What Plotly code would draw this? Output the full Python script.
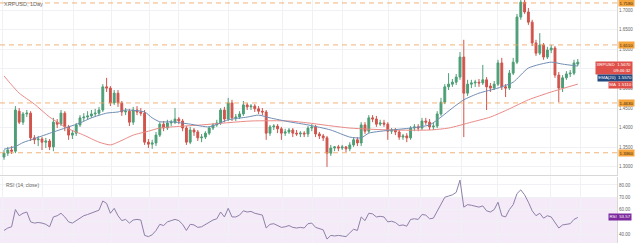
import plotly.graph_objects as go

# ---------------- data ----------------
open_ = [
1.325,1.335,1.343,1.340,1.442,1.414,1.435,1.437,1.374,1.369,
1.371,1.363,1.366,1.351,1.414,1.409,1.437,1.402,1.381,1.386,
1.407,1.425,1.427,1.430,1.435,1.437,1.445,1.504,1.501,1.463,
1.488,1.463,1.440,1.442,1.414,1.445,1.440,1.437,1.363,1.358,
1.361,1.381,1.409,1.399,1.412,1.414,1.422,1.417,1.399,1.363,
1.394,1.389,1.374,1.376,1.386,1.399,1.407,1.412,1.445,1.422,
1.463,1.425,1.427,1.435,1.458,1.453,1.455,1.448,1.442,1.440,
1.386,1.402,1.404,1.397,1.386,1.389,1.394,1.386,1.384,1.386,
1.384,1.399,1.402,1.384,1.379,1.374,1.335,1.348,1.351,1.348,
1.351,1.346,1.356,1.369,1.361,1.407,1.391,1.425,1.422,1.409,
1.412,1.409,1.391,1.394,1.389,1.376,1.379,1.374,1.399,1.402,
1.399,1.417,1.414,1.402,1.404,1.435,1.465,1.504,1.511,1.516,
1.529,1.580,1.488,1.511,1.514,1.516,1.514,1.522,1.506,1.501,
1.511,1.565,1.504,1.501,1.539,1.567,1.682,1.720,1.695,1.669,
1.616,1.590,1.611,1.580,1.598,1.603,1.534,1.501,1.527,1.537,
1.539,1.562]

high = [
1.343,1.351,1.353,1.455,1.450,1.440,1.445,1.442,1.381,1.379,
1.376,1.374,1.371,1.425,1.422,1.445,1.442,1.407,1.394,1.412,
1.432,1.437,1.442,1.445,1.448,1.453,1.511,1.527,1.506,1.496,
1.496,1.468,1.450,1.448,1.453,1.455,1.450,1.445,1.371,1.369,
1.389,1.414,1.417,1.420,1.420,1.450,1.427,1.422,1.404,1.402,
1.399,1.394,1.384,1.391,1.404,1.412,1.420,1.450,1.453,1.476,
1.471,1.435,1.442,1.468,1.463,1.460,1.460,1.455,1.450,1.445,
1.407,1.409,1.409,1.402,1.397,1.399,1.399,1.394,1.391,1.391,
1.404,1.409,1.407,1.389,1.384,1.379,1.356,1.353,1.356,1.356,
1.353,1.363,1.376,1.376,1.414,1.414,1.432,1.432,1.430,1.420,
1.420,1.414,1.399,1.399,1.394,1.384,1.386,1.404,1.409,1.409,
1.425,1.425,1.422,1.412,1.442,1.476,1.511,1.539,1.524,1.537,
1.593,1.624,1.522,1.522,1.522,1.524,1.560,1.529,1.514,1.519,
1.573,1.578,1.511,1.547,1.578,1.690,1.738,1.756,1.705,1.675,
1.624,1.641,1.616,1.606,1.611,1.608,1.542,1.534,1.544,1.547,
1.573,1.575]

low = [
1.318,1.328,1.333,1.335,1.409,1.407,1.427,1.366,1.358,1.353,
1.343,1.348,1.343,1.340,1.399,1.404,1.391,1.369,1.371,1.379,
1.402,1.417,1.420,1.425,1.427,1.432,1.440,1.491,1.455,1.458,
1.453,1.430,1.432,1.404,1.407,1.432,1.430,1.356,1.348,1.346,
1.353,1.376,1.391,1.394,1.404,1.409,1.409,1.391,1.356,1.358,
1.379,1.366,1.363,1.371,1.381,1.394,1.402,1.407,1.414,1.417,
1.417,1.417,1.422,1.430,1.445,1.445,1.440,1.435,1.432,1.369,
1.379,1.394,1.386,1.369,1.379,1.384,1.376,1.379,1.376,1.376,
1.376,1.391,1.376,1.371,1.366,1.300,1.328,1.340,1.340,1.343,
1.338,1.340,1.351,1.353,1.353,1.384,1.386,1.414,1.402,1.404,
1.402,1.369,1.384,1.381,1.369,1.369,1.363,1.369,1.391,1.391,
1.394,1.407,1.394,1.394,1.399,1.430,1.460,1.496,1.504,1.509,
1.522,1.376,1.481,1.501,1.504,1.504,1.509,1.445,1.491,1.496,
1.506,1.496,1.478,1.496,1.534,1.562,1.675,1.690,1.662,1.608,
1.583,1.585,1.573,1.575,1.590,1.527,1.465,1.491,1.522,1.529,
1.534,1.557]

close = [
1.335,1.343,1.340,1.445,1.414,1.435,1.437,1.374,1.369,1.371,
1.363,1.366,1.351,1.414,1.409,1.437,1.402,1.381,1.386,1.407,
1.425,1.427,1.430,1.435,1.437,1.445,1.504,1.501,1.463,1.488,
1.463,1.440,1.442,1.414,1.445,1.440,1.437,1.363,1.358,1.361,
1.381,1.409,1.399,1.412,1.414,1.422,1.417,1.399,1.363,1.394,
1.389,1.374,1.376,1.386,1.399,1.407,1.412,1.445,1.422,1.463,
1.425,1.427,1.435,1.458,1.453,1.455,1.448,1.442,1.440,1.386,
1.402,1.404,1.397,1.386,1.389,1.394,1.386,1.384,1.386,1.384,
1.399,1.402,1.384,1.379,1.374,1.335,1.348,1.351,1.348,1.351,
1.346,1.356,1.369,1.361,1.407,1.391,1.425,1.422,1.409,1.412,
1.409,1.391,1.394,1.389,1.376,1.379,1.374,1.399,1.402,1.399,
1.417,1.414,1.402,1.404,1.435,1.465,1.504,1.511,1.516,1.529,
1.580,1.488,1.511,1.514,1.516,1.514,1.522,1.504,1.501,1.511,
1.565,1.504,1.501,1.539,1.567,1.682,1.720,1.695,1.669,1.616,
1.590,1.611,1.580,1.598,1.603,1.534,1.501,1.527,1.537,1.539,
1.565,1.567]

# slow moving average (red) and EMA (blue-grey), read at sample candles
ma_idx = [0, 2, 4, 8, 12, 17, 21, 25, 28, 30, 34, 38, 41, 52, 65, 75, 80, 91,
          102, 112, 117, 123, 128, 133, 138, 144, 151]
ma_val = [1.532, 1.509, 1.488, 1.460, 1.427, 1.397, 1.381, 1.363, 1.356, 1.363,
          1.381, 1.391, 1.399, 1.407, 1.417, 1.417, 1.412, 1.399, 1.394, 1.394,
          1.399, 1.414, 1.427, 1.448, 1.471, 1.491, 1.511]

ema_idx = [0, 3, 5, 8, 13, 17, 20, 23, 27, 30, 32, 37, 39, 41, 44, 49, 54, 59,
           64, 67, 70, 75, 80, 86, 91, 94, 96, 102, 107, 112, 115, 118, 121,
           125, 130, 134, 138, 144, 147, 151]
ema_val = [1.345, 1.352, 1.362, 1.372, 1.389, 1.402, 1.412, 1.425, 1.437, 1.440,
           1.445, 1.440, 1.425, 1.415, 1.415, 1.409, 1.402, 1.420, 1.427, 1.432,
           1.425, 1.415, 1.407, 1.394, 1.376, 1.374, 1.386, 1.394, 1.399, 1.407,
           1.427, 1.450, 1.471, 1.488, 1.501, 1.516, 1.552, 1.567, 1.562, 1.557]

rsi = [
43, 45, 46, 60, 55, 57, 58, 50, 49, 49.5,
49, 48, 46, 54, 55, 57, 54, 50, 49, 51,
53, 55, 56, 57, 58, 59.5, 67, 65, 57, 61,
55, 51, 52, 49, 51.5, 52, 51.5, 39, 38, 39.5,
43, 48, 47, 50, 51, 52, 51, 48, 43, 48,
47.5, 45.5, 46, 48, 50, 51.5, 52.5, 58, 54, 61,
54, 54, 55.5, 59, 58, 58.5, 57, 56, 55.5, 45,
48, 48.5, 47, 45.5, 46, 47, 45.5, 45, 45.5, 45,
48.5, 49, 45.5, 44.5, 43.5, 36, 39, 38.5, 39, 38.5,
38, 41, 44, 43, 54, 51, 57, 56.5, 54, 54.5,
54, 50, 50.5, 49.5, 47, 47.5, 46.5, 52, 52.5, 52,
56, 55.5, 52.5, 53, 59, 64, 70, 71, 72, 74,
84, 62, 64, 63.5, 63, 62, 63, 59, 58, 60,
66, 55, 54, 60, 64, 73, 76, 72, 66, 59,
55, 57, 53, 55, 54, 49, 45, 47.5, 48, 48.5,
52, 53.57]

levels = [1.7180, 1.6110, 1.4630, 1.3360]
price_ticks = [1.30, 1.35, 1.40, 1.45, 1.50, 1.55, 1.60, 1.65, 1.70]
# tick labels hidden behind the live price / RSI labels in the reference
price_hidden = [1.55]
rsi_ticks = [40, 50, 60, 70, 80]
rsi_hidden = [50]
grid_ticks = [-0.3, 10, 18.4, 28.4, 38.4, 45.8, 59.2, 73.4, 81.3, 89.2,
              101.3, 109.5, 120.5, 130, 143.7, 151.6]

N = len(close)
assert len(open_) == N and len(high) == N and len(low) == N and len(rsi) == N
xs = list(range(N))

# ---------------- styling ----------------
GREEN = "#4d9e76"
RED = "#d0544c"
FONT = "Liberation Sans"
W, H = 640, 243
R_MARGIN = 23
MAIN_DOM = [1 - 175 / H, 1]
RSI_DOM = [0, 1 - 177 / H]

fig = go.Figure()
fig.add_trace(go.Candlestick(
    x=xs, open=open_, high=high, low=low, close=close,
    increasing=dict(line=dict(color=GREEN, width=1), fillcolor=GREEN),
    decreasing=dict(line=dict(color=RED, width=1), fillcolor=RED),
    whiskerwidth=0, showlegend=False, xaxis="x", yaxis="y", hoverinfo="skip"))
fig.add_trace(go.Scatter(x=ma_idx, y=ma_val, mode="lines",
                         line=dict(color="#e98a86", width=1, shape="spline", smoothing=0.6),
                         showlegend=False, xaxis="x", yaxis="y", hoverinfo="skip"))
fig.add_trace(go.Scatter(x=ema_idx, y=ema_val, mode="lines",
                         line=dict(color="#6f8db3", width=1, shape="spline", smoothing=0.6),
                         showlegend=False, xaxis="x", yaxis="y", hoverinfo="skip"))
fig.add_trace(go.Scatter(x=xs, y=rsi, mode="lines",
                         line=dict(color="#8f80a8", width=1),
                         showlegend=False, xaxis="x2", yaxis="y2", hoverinfo="skip"))

shapes = []
for v in levels:
    shapes.append(dict(type="line", xref="paper", x0=0, x1=1, yref="y", y0=v, y1=v,
                       line=dict(color="rgba(238,160,90,0.8)", width=1, dash="5px,4px"),
                       layer="above"))
shapes.append(dict(type="rect", xref="paper", x0=0, x1=1, yref="y2", y0=30, y1=70,
                   fillcolor="rgba(168,90,200,0.13)", line=dict(width=0), layer="below"))

LAB_FONT = 4.4
annotations = []
for v in levels:
    annotations.append(dict(text=f"{v:.4f}", x=1, xref="paper", xanchor="left", xshift=1,
                            y=v, yref="y", yanchor="middle", showarrow=False,
                            bgcolor="#f5a43c", font=dict(size=LAB_FONT, color="#3a2a10", family=FONT),
                            borderpad=0.5))
lab_x = 633 / (W - R_MARGIN)
last = close[-1]
annotations += [
    dict(text=f"XRPUSD  {last:.4f}<br>09:46:32", align="right",
         x=lab_x, xref="paper", xanchor="right", y=last, yref="y",
         yshift=-5.5, showarrow=False, bgcolor="#e0504a",
         font=dict(size=LAB_FONT, color="white", family=FONT), borderpad=0.4),
    dict(text=f"EMA(20)  {ema_val[-1]:.4f}", x=lab_x, xref="paper", xanchor="right", y=ema_val[-1],
         yref="y", yshift=-11.6, showarrow=False, bgcolor="#23477f",
         font=dict(size=LAB_FONT, color="white", family=FONT), borderpad=0.3),
    dict(text=f"MA  {ma_val[-1]:.4f}", x=lab_x, xref="paper", xanchor="right", y=ma_val[-1],
         yref="y", yshift=-0.6, showarrow=False, bgcolor="#e0504a",
         font=dict(size=LAB_FONT, color="white", family=FONT), borderpad=0.3),
    dict(text=f"RSI  {rsi[-1]:.2f}", x=632 / (W - R_MARGIN), xref="paper", xanchor="right",
         y=rsi[-1], yref="y2", showarrow=False, bgcolor="#7d2a9e",
         font=dict(size=LAB_FONT, color="white", family=FONT), borderpad=0.4),
    dict(text="XRPUSD, 1Day", x=0.004, xref="paper", xanchor="left", y=1, yref="paper",
         yanchor="top", yshift=1, showarrow=False, font=dict(size=5.5, color="#666", family=FONT)),
    dict(text="RSI (14, close)", x=0.006, xref="paper", xanchor="left", y=RSI_DOM[1], yref="paper",
         yanchor="top", yshift=-3, showarrow=False, font=dict(size=5, color="#666", family=FONT)),
]

GRID = "#f0f1f4"
xcommon = dict(range=[-1.053, 161.32], tickvals=grid_ticks, showticklabels=False,
               showgrid=True, gridcolor=GRID, gridwidth=1, zeroline=False, ticks="",
               fixedrange=True)
fig.update_layout(
    width=W, height=H,
    margin=dict(l=0, r=R_MARGIN, t=0, b=0),
    paper_bgcolor="white", plot_bgcolor="white",
    hovermode=False,
    font=dict(family=FONT),
    xaxis=dict(domain=[0, 1], anchor="y", rangeslider=dict(visible=False),
               showline=True, linecolor="#d8d8d8", linewidth=1, **xcommon),
    xaxis2=dict(domain=[0, 1], anchor="y2", matches="x", showline=False, **xcommon),
    yaxis=dict(domain=MAIN_DOM, anchor="x", side="right",
               range=[1.2793, 1.7255], tickvals=price_ticks,
               ticktext=["" if v in price_hidden else f"{v:.4f}" for v in price_ticks],
               tickfont=dict(size=4.5, color="#666", family=FONT),
               showgrid=True, gridcolor=GRID, zeroline=False, ticks="",
               showline=True, linecolor="#d8d8d8", linewidth=1),
    yaxis2=dict(domain=RSI_DOM, anchor="x2", side="right",
                range=[32.8, 86.5], tickvals=rsi_ticks,
                ticktext=["" if v in rsi_hidden else f"{v:.2f}" for v in rsi_ticks],
                tickfont=dict(size=4.5, color="#666", family=FONT),
                showgrid=True, gridcolor=GRID, zeroline=False, ticks="",
                showline=True, linecolor="#d8d8d8", linewidth=1),
    shapes=shapes,
    annotations=annotations,
)

fig.write_html("out.html")
